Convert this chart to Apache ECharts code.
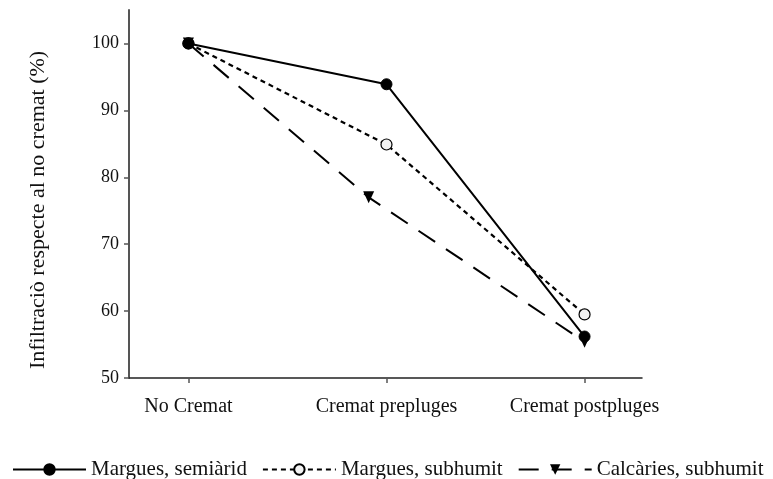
<!DOCTYPE html>
<html>
<head>
<meta charset="utf-8">
<script src="https://cdn.jsdelivr.net/npm/echarts@6/dist/echarts.min.js"></script>
<style>
  html, body { margin: 0; padding: 0; background: #fff; }
  #chart { width: 773px; height: 479px; }
</style>
</head>
<body>
<div id="chart"></div>
<script>
var categories = ['No Cremat', 'Cremat prepluges', 'Cremat postpluges'];
var catPos = [0, 1, 2];
var yTicks = [50, 60, 70, 80, 90, 100];

var names = ['Margues, semiàrid', 'Margues, subhumit', 'Calcàries, subhumit'];
var semiarid = [100, 93.9, 56.2];
var subhumitMargues = [100, 84.9, 59.5];
var calcaries = [100, 77.0, 55.4];
// the triangle at "prepluges" sits a bit left of its category in the original
var calcariesX = [0, 0.91, 2];

var serif = '"Liberation Serif", "DejaVu Serif", serif';

function pairs(xs, ys) {
    var out = [];
    for (var i = 0; i < ys.length; i++) out.push([xs[i], ys[i]]);
    return out;
}

var dom = document.getElementById('chart');
var myChart = echarts.init(dom);

var option = {
    animation: false,
    backgroundColor: '#fff',
    textStyle: { fontFamily: serif, color: '#111' },
    grid: { left: 129, right: 131, top: 10, bottom: 101 },
    legend: {
        left: 7,
        top: 454,
        itemWidth: 73,
        itemHeight: 13,
        itemGap: 15,
        textStyle: { fontFamily: serif, fontSize: 21, color: '#111' },
        data: names
    },
    xAxis: {
        type: 'value',
        min: -0.3,
        max: 2.29,
        splitLine: { show: false },
        axisLine: { onZero: false, lineStyle: { color: '#222', width: 1.5 } },
        axisTick: {
            customValues: catPos,
            length: 5,
            lineStyle: { color: '#555', width: 1.5 }
        },
        axisLabel: {
            customValues: catPos,
            margin: 19,
            fontFamily: serif,
            fontSize: 20,
            color: '#111',
            formatter: function (v) { return categories[Math.round(v)]; }
        }
    },
    yAxis: {
        type: 'value',
        min: 50,
        max: 105,
        name: 'Infiltraciò respecte al no cremat (%)',
        nameLocation: 'middle',
        nameRotate: 90,
        nameGap: 80,
        nameTextStyle: { fontFamily: serif, fontSize: 22, color: '#111', padding: [0, 32, 0, 0] },
        splitLine: { show: false },
        axisLine: { show: true, onZero: false, lineStyle: { color: '#555', width: 2 } },
        axisTick: {
            show: true,
            customValues: yTicks,
            length: 5,
            lineStyle: { color: '#555', width: 1.5 }
        },
        axisLabel: {
            customValues: yTicks,
            margin: 10,
            fontFamily: serif,
            fontSize: 18,
            color: '#111'
        }
    },
    series: [
        {
            name: names[0],
            type: 'line',
            data: pairs(catPos, semiarid),
            symbol: 'circle',
            symbolSize: 11,
            itemStyle: { color: '#000', borderColor: '#000', borderWidth: 1 },
            lineStyle: { color: '#000', width: 2, type: 'solid' },
            z: 3
        },
        {
            name: names[1],
            type: 'line',
            data: pairs(catPos, subhumitMargues),
            symbol: 'circle',
            symbolSize: 11,
            itemStyle: { color: '#f2f2f2', borderColor: '#000', borderWidth: 1.2 },
            lineStyle: { color: '#000', width: 2.2, type: [5, 4] },
            z: 2
        },
        {
            name: names[2],
            type: 'line',
            data: pairs(calcariesX, calcaries),
            symbol: 'triangle',
            symbolRotate: 180,
            symbolSize: [11, 12],
            itemStyle: { color: '#000', borderColor: '#000', borderWidth: 0 },
            lineStyle: { color: '#000', width: 2, type: [20, 13] },
            z: 1
        }
    ]
};

if (option && typeof option === 'object') {
    myChart.setOption(option, true);
}
</script>
</body>
</html>
